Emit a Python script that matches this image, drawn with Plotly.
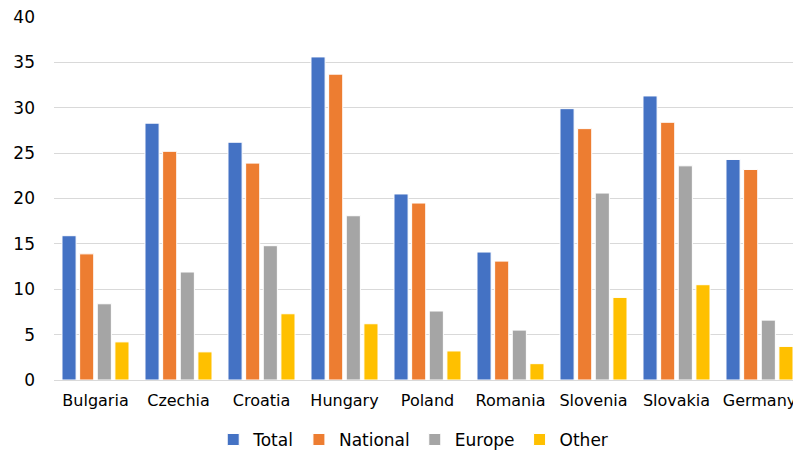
import plotly.graph_objects as go

countries = ['Bulgaria', 'Czechia', 'Croatia', 'Hungary', 'Poland', 'Romania', 'Slovenia', 'Slovakia', 'Germany']
total = [15.9, 28.3, 26.2, 35.6, 20.5, 14.1, 29.9, 31.3, 24.3]
national = [13.9, 25.2, 23.9, 33.7, 19.5, 13.1, 27.7, 28.4, 23.2]
europe = [8.4, 11.9, 14.8, 18.1, 7.6, 5.5, 20.6, 23.6, 6.6]
other = [4.2, 3.1, 7.3, 6.2, 3.2, 1.8, 9.1, 10.5, 3.7]

series = [('Total', total, '#4472c4'),
          ('National', national, '#ed7d31'),
          ('Europe', europe, '#a5a5a5'),
          ('Other', other, '#ffc000')]

fig = go.Figure()
for name, vals, color in series:
    fig.add_trace(go.Bar(x=countries, y=vals, name=name,
                         marker=dict(color=color, line=dict(color='white', width=1))))

# page body has an 8px margin, so the figure is sized 8px smaller
fig.update_layout(
    width=793, height=449,
    barmode='group', bargap=0.15, bargroupgap=0.2,
    plot_bgcolor='white', paper_bgcolor='white',
    font=dict(family='DejaVu Sans', size=17, color='#000000'),
    margin=dict(l=46, r=0, t=9, b=77, autoexpand=False),
    legend=dict(orientation='h', x=0.511, xanchor='center', xref='container',
                y=0.038, yanchor='middle', yref='container',
                font=dict(size=17), itemwidth=30, traceorder='normal'),
    yaxis=dict(range=[0, 40], dtick=5, gridcolor='#d9d9d9', gridwidth=1,
               zeroline=False, ticks='', tickfont=dict(size=17), ticklabelstandoff=18,
               ticklabeloverflow='allow', automargin=False),
    xaxis=dict(showline=True, linecolor='#d9d9d9', linewidth=1, ticks='',
               tickfont=dict(size=16), ticklabelstandoff=6,
               ticklabeloverflow='allow', automargin=False),
)

fig.write_html("out.html")
